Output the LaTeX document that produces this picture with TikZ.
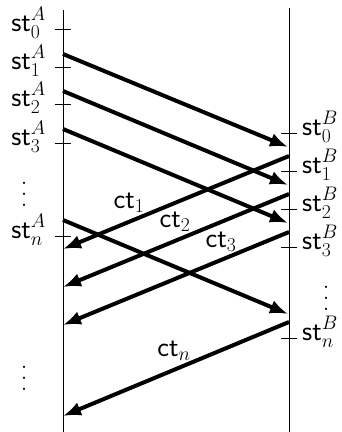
\RequirePackage{fix-cm}
\documentclass[tikz,border=0pt]{standalone}
\usepackage{fontspec}
\usetikzlibrary{arrows.meta}
\newcommand{\tallvdots}{\vbox{\baselineskip=11pt\lineskiplimit=0pt\hbox{.}\hbox{.}\hbox{.}}}
\begin{document}
\begin{tikzpicture}[x=1pt,y=-1pt,
  timeline/.style={line width=0.8pt},
  tickmark/.style={line width=0.8pt},
  msg/.style={line width=4pt,-{Latex[length=18pt,width=14pt]}},
  lbl/.style={font=\fontsize{28}{32}\selectfont\sffamily,inner sep=0pt},
  dotsl/.style={font=\fontsize{28}{32}\selectfont,inner sep=0pt}]
\useasboundingbox (0,0) rectangle (341,432);
% timelines
\coordinate (Atop) at (63,10);
\coordinate (Abot) at (63,432);
\coordinate (Btop) at (289,8);
\coordinate (Bbot) at (289,432);
\draw[timeline] (Atop) -- (Abot);
\draw[timeline] (Btop) -- (Bbot);
% ticks A
\foreach \y/\n in {29/0,67/1,104/2,143/3,236/n}{
  \draw[tickmark] (55,\y) -- (71,\y);
  \node[lbl,anchor=mid east] (stA\n) at (46,\y) {st$_{\n}^{A}$};
}
% ticks B
\foreach \y/\n in {133/0,171/1,209/2,247/3,338/n}{
  \draw[tickmark] (281,\y) -- (297,\y);
  \node[lbl,anchor=mid west] (stB\n) at (302,\y) {st$_{\n}^{B}$};
}
\node[dotsl] (dA1) at (24,194) {\tallvdots};
\node[dotsl] (dA2) at (24,378) {\tallvdots};
\node[dotsl] (dB1) at (326,298) {\tallvdots};
% endpoints
\coordinate (a1) at (63,54);  \coordinate (b1) at (288,147);
\coordinate (a2) at (63,91);  \coordinate (b2) at (288,185);
\coordinate (a3) at (63,129); \coordinate (b3) at (288,223);
\coordinate (an) at (63,220); \coordinate (bn) at (288,314);
\coordinate (c1s) at (289,156); \coordinate (c1e) at (63,249);
\coordinate (c2s) at (289,194); \coordinate (c2e) at (63,287);
\coordinate (c3s) at (289,232); \coordinate (c3e) at (63,325);
\coordinate (cns) at (289,322); \coordinate (cne) at (63,416);
\draw[msg] (a1) -- (b1);
\draw[msg] (a2) -- (b2);
\draw[msg] (a3) -- (b3);
\draw[msg] (an) -- (bn);
\draw[msg] (c1s) -- (c1e);
\draw[msg] (c2s) -- (c2e);
\draw[msg] (c3s) -- (c3e);
\draw[msg] (cns) -- (cne);
\node[lbl] (ct1) at (129,203) {ct$_1$};
\node[lbl] (ct2) at (175,222) {ct$_2$};
\node[lbl] (ct3) at (221,242) {ct$_3$};
\node[lbl] (ctn) at (174,351) {ct$_n$};
\end{tikzpicture}
\end{document}
